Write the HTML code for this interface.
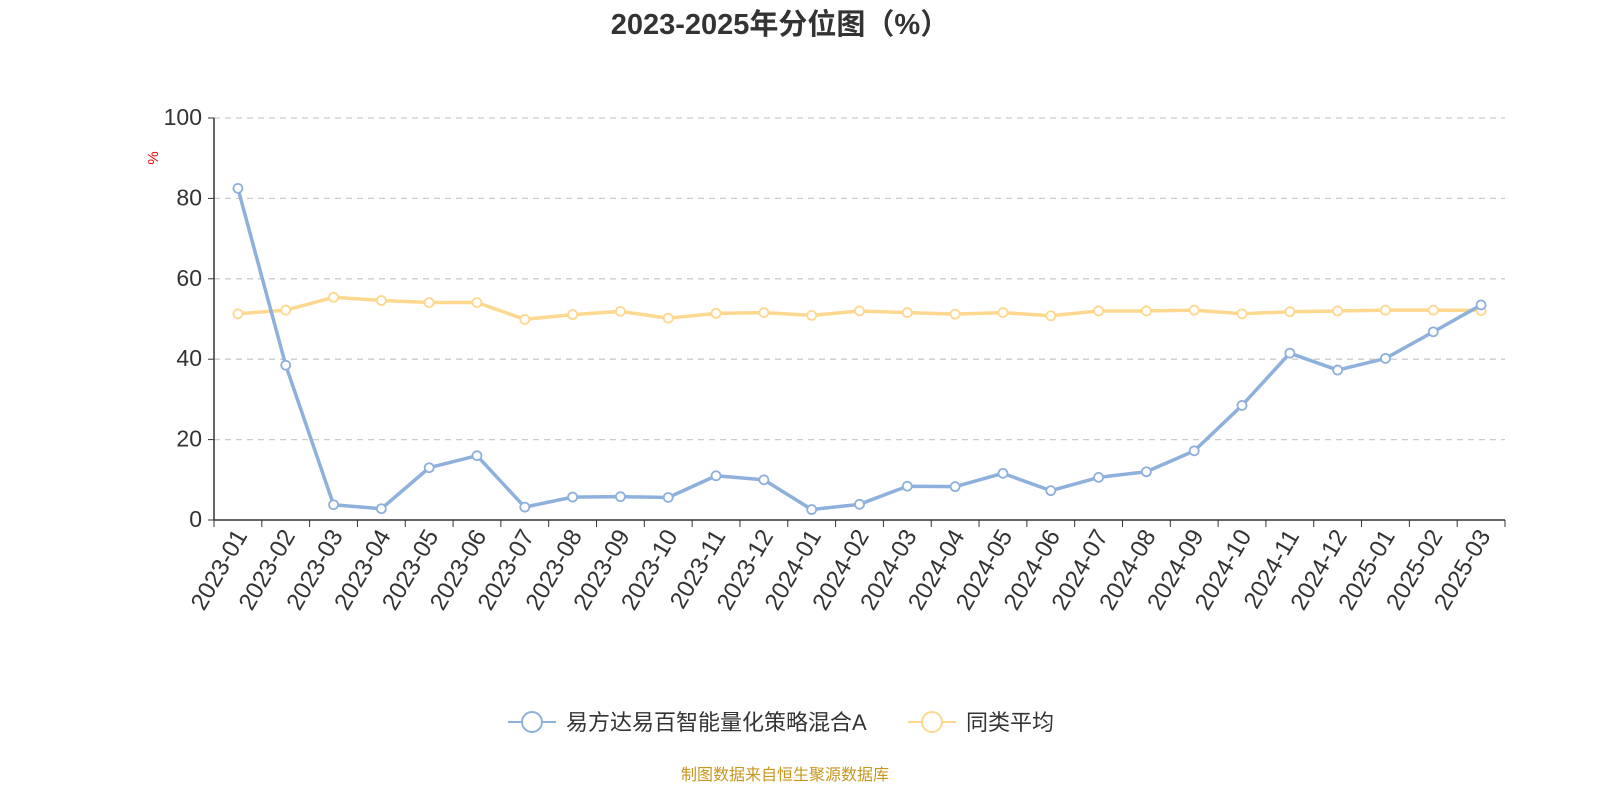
<!DOCTYPE html>
<html><head><meta charset="utf-8"><style>
body{margin:0;background:#fff;}
svg text{font-family:"Liberation Sans","Noto Sans CJK SC",sans-serif;}
</style></head><body>
<svg id="chart" width="1600" height="800" xmlns="http://www.w3.org/2000/svg">
<text x="780" y="34" text-anchor="middle" font-size="29" font-weight="bold" fill="#333">2023-2025年分位图（%）</text>
<text x="158" y="158" font-size="15" fill="#e00" transform="rotate(-90 158 158)" text-anchor="middle">%</text>
<g id="grid"></g><g id="axes"></g><g id="series"></g>
<g>
<g>
<line x1="508" y1="722" x2="556" y2="722" stroke="#8eb0dc" stroke-width="2"/>
<circle cx="532" cy="722" r="10" fill="#fff" stroke="#8eb0dc" stroke-width="2"/>
<text x="566" y="730" font-size="22" fill="#333">易方达易百智能量化策略混合A</text></g>
<g>
<line x1="908" y1="722" x2="956" y2="722" stroke="#fdd88e" stroke-width="2"/>
<circle cx="932" cy="722" r="10" fill="#fff" stroke="#fdd88e" stroke-width="2"/>
<text x="966" y="730" font-size="22" fill="#333">同类平均</text></g>
</g>
<text x="785" y="780" text-anchor="middle" font-size="16" fill="#c8961e">制图数据来自恒生聚源数据库</text>
</svg>
<script>
const categories=["2023-01","2023-02","2023-03","2023-04","2023-05","2023-06","2023-07","2023-08","2023-09","2023-10","2023-11","2023-12","2024-01","2024-02","2024-03","2024-04","2024-05","2024-06","2024-07","2024-08","2024-09","2024-10","2024-11","2024-12","2025-01","2025-02","2025-03"];
const fundValues=[82.5,38.5,3.8,2.8,13,16,3.2,5.7,5.8,5.6,11,10,2.6,3.9,8.4,8.3,11.6,7.3,10.6,12,17.2,28.5,41.5,37.3,40.2,46.8,53.5];
const avgValues=[51.3,52.2,55.4,54.6,54.1,54.1,49.9,51.1,51.9,50.2,51.4,51.6,50.9,52,51.6,51.2,51.6,50.8,52,52,52.2,51.3,51.8,52,52.2,52.2,52.1];
const yTicks=[0,20,40,60,80,100];
const NS="http://www.w3.org/2000/svg";
const L=214,R=1505,T=118,B=520;
const bw=(R-L)/categories.length;
const xs=i=>L+bw*(i+0.5);
const ys=v=>B-(v/100)*(B-T);
function mk(tag,attrs,parent){const e=document.createElementNS(NS,tag);for(const k in attrs)e.setAttribute(k,attrs[k]);parent.appendChild(e);return e;}
const grid=document.getElementById('grid'),axes=document.getElementById('axes'),series=document.getElementById('series');
yTicks.forEach(t=>{
  if(t>0){const g=mk('line',{x1:L,x2:R,y1:ys(t),y2:ys(t),stroke:'#ccc','stroke-dasharray':'6,5','stroke-width':1.3},grid);
  
  }
  const tk=mk('line',{x1:L-6,x2:L,y1:ys(t),y2:ys(t),stroke:'#333'},axes);
  
  
  const tx=mk('text',{x:L-12,y:ys(t)+7,'text-anchor':'end','font-size':23,fill:'#333'},axes);
  tx.textContent=t;
  
  
});
const ya=mk('line',{x1:L,x2:L,y1:T,y2:B,stroke:'#333','stroke-width':1.5},axes);


const xa=mk('line',{x1:L,x2:R,y1:B,y2:B,stroke:'#333','stroke-width':1.5},axes);


for(let i=0;i<=categories.length;i++){
  const x=L+bw*i;
  const tk=mk('line',{x1:x,x2:x,y1:B,y2:B+7,stroke:'#333'},axes);
  
  
}
categories.forEach((c,i)=>{
  const x=xs(i)+4,y=B+12;
  const t=mk('text',{x:x,y:y+7,'text-anchor':'end','font-size':24,fill:'#333',transform:`rotate(-60 ${x} ${y})`},axes);
  t.textContent=c;
  
  
});
function drawSeries(vals,color,name){
  const p=mk('polyline',{points:vals.map((v,i)=>xs(i)+','+ys(v)).join(' '),fill:'none',stroke:color,'stroke-width':3.5,'stroke-linejoin':'round'},series);
  
  
  vals.forEach((v,i)=>{
    const c=mk('circle',{cx:xs(i),cy:ys(v),r:4.5,fill:'#fff',stroke:color,'stroke-width':1.8},series);
    
    
  });
}
drawSeries(avgValues,'#fdd88e','average');
drawSeries(fundValues,'#8eb0dc','fund');
</script>
</body></html>
